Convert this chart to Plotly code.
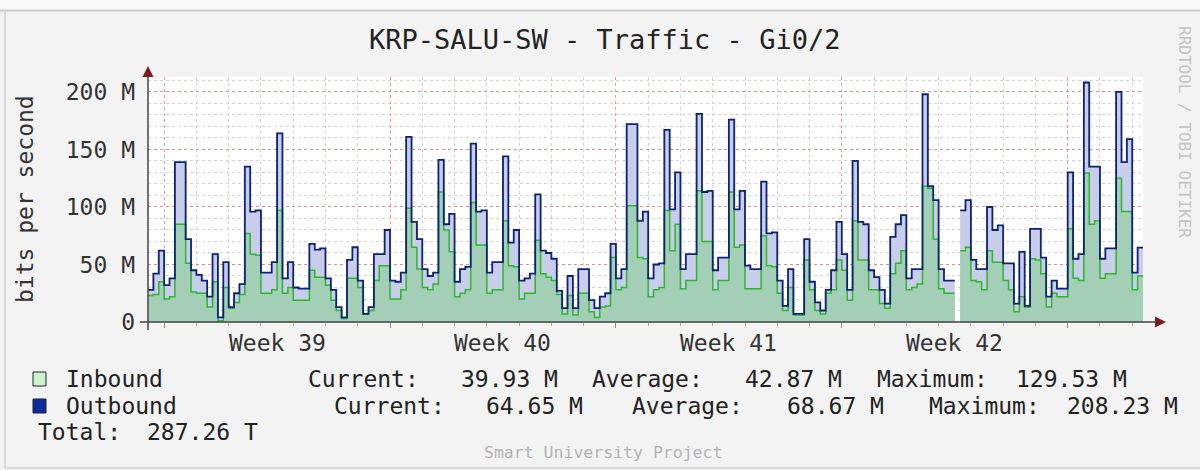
import plotly.graph_objects as go
import pandas as pd

# ---------------- data ----------------
start_time = "2019-09-22 12:00"
step = "4h"

outbound = [
    28, 42, 62, 32, 38, 139, 139, 72, 45, 41,
    36, 22, 59, 4, 52, 13, 25, 33, 135, 96,
    97, 43, 43, 52, 164, 38, 52, 30, 29, 29,
    68, 63, 64, 38, 28, 13, 4, 54, 65, 36,
    7, 13, 59, 59, 80, 36, 35, 43, 161, 87,
    72, 46, 40, 43, 141, 85, 94, 35, 46, 48,
    155, 96, 97, 43, 52, 52, 144, 69, 80, 36,
    38, 42, 111, 62, 60, 55, 27, 12, 40, 12,
    46, 46, 19, 12, 22, 25, 68, 38, 46, 172,
    172, 88, 96, 38, 50, 51, 167, 98, 130, 46,
    59, 59, 181, 113, 114, 45, 56, 56, 176, 98,
    114, 49, 46, 46, 122, 77, 78, 36, 14, 46,
    7, 7, 72, 35, 17, 10, 28, 45, 87, 59,
    28, 140, 87, 85, 45, 39, 28, 16, 74, 85,
    93, 38, 46, 46, 198, 118, 106, 46, 36, 36,
    None, 97, 106, 54, 46, 46, 100, 80, 84, 51,
    51, 16, 61, 14, 81, 81, 56, 22, 36, 29,
    29, 130, 55, 59, 208.23, 135, 135, 55, 64, 64,
    200, 139, 159, 43, 64.65,
]

inbound = [
    23, 24, 35, 20, 22, 85, 85, 51, 26, 25,
    25, 13, 35, 1, 30, 12, 17, 24, 77, 59,
    58, 25, 25, 28, 97, 25, 30, 19, 19, 19,
    45, 39, 39, 32, 19, 10, 3, 38, 38, 30,
    7, 10, 36, 49, 49, 20, 20, 28, 99, 65,
    46, 30, 28, 33, 113, 80, 61, 22, 25, 28,
    104, 67, 67, 25, 28, 28, 88, 49, 48, 20,
    25, 25, 71, 42, 39, 36, 24, 7, 23, 6,
    25, 25, 9, 4, 13, 14, 56, 28, 30, 101,
    101, 56, 55, 22, 28, 30, 97, 62, 85, 29,
    36, 36, 114, 70, 70, 28, 36, 36, 113, 65,
    67, 29, 29, 29, 75, 49, 48, 25, 10, 30,
    6, 6, 54, 28, 10, 7, 25, 28, 54, 45,
    19, 88, 54, 54, 28, 28, 16, 12, 42, 51,
    62, 28, 30, 33, 118, 116, 72, 29, 25, 25,
    None, 62, 65, 36, 35, 28, 62, 52, 52, 36,
    28, 9, 22, 13, 55, 54, 42, 13, 25, 22,
    22, 81, 38, 36, 129.53, 85, 88, 38, 42, 42,
    125, 96, 96, 28, 39.93,
]

week_labels = ["Week 39", "Week 40", "Week 41", "Week 42"]
week_label_times = ["2019-09-26 12:00", "2019-10-03 12:00",
                    "2019-10-10 12:00", "2019-10-17 12:00"]
week_grid_start = "2019-09-23"

y_tick_vals = [0, 50, 100, 150, 200]
y_tick_text = ["0", "50 M", "100 M", "150 M", "200 M"]

title_text = "KRP-SALU-SW - Traffic - Gi0/2"
y_title = "bits per second"
series_names = ["Inbound", "Outbound"]
stat_labels = ["Current:", "Average:", "Maximum:"]
inbound_stats = ["39.93 M", "42.87 M", "129.53 M"]
outbound_stats = ["64.65 M", "68.67 M", "208.23 M"]
total_label = "Total:"
total_value = "287.26 T"
footer_text = "Smart University Project"
side_text = "RRDTOOL / TOBI OETIKER"

# ---------------- figure ----------------
times = pd.date_range(start_time, periods=len(outbound) + 1, freq=step)


def segments(values):
    """Split a step series at missing values; each segment ends at the next step time."""
    segs, cur_x, cur_y = [], [], []
    for i, v in enumerate(values):
        if v is None:
            if cur_x:
                cur_x.append(times[i])
                cur_y.append(cur_y[-1])
                segs.append((cur_x, cur_y))
            cur_x, cur_y = [], []
        else:
            cur_x.append(times[i])
            cur_y.append(v)
    if cur_x:
        cur_x.append(times[len(values)])
        cur_y.append(cur_y[-1])
        segs.append((cur_x, cur_y))
    return segs


MONO = "DejaVu Sans Mono"
PL, PR, PT, PB = 148, 1143, 77, 322
W, H = 1200, 470


def px(x):
    return (x - PL) / (PR - PL)


def py(y):
    return (PB - y) / (PB - PT)


fig = go.Figure()
for sx, sy in segments(outbound):
    fig.add_trace(go.Scatter(x=sx, y=sy, mode="lines",
                             line=dict(shape="hv", width=0, color="#c8cdea"),
                             fill="tozeroy", fillcolor="#c8cdea", hoverinfo="skip"))
for sx, sy in segments(inbound):
    fig.add_trace(go.Scatter(x=sx, y=sy, mode="lines",
                             line=dict(shape="hv", width=0, color="#a3cfb6"),
                             fill="tozeroy", fillcolor="#a3cfb6", hoverinfo="skip"))
for sx, sy in segments(inbound):
    fig.add_trace(go.Scatter(x=sx, y=sy, mode="lines",
                             line=dict(shape="hv", width=1.5, color="#2fb52f")))
for sx, sy in segments(outbound):
    fig.add_trace(go.Scatter(x=sx, y=sy, mode="lines",
                             line=dict(shape="hv", width=1.8, color="#0b2275")))

fig.update_layout(
    width=W, height=H, autosize=False,
    margin=dict(l=PL, r=W - PR, t=PT, b=H - PB, pad=0),
    paper_bgcolor="#f3f3f3", plot_bgcolor="#ffffff",
    showlegend=False,
    font=dict(family=MONO, size=23, color="#333333"),
)

fig.update_xaxes(
    type="date", range=[times[0], times[-1]],
    showticklabels=False, showline=False, zeroline=False,
    showgrid=True, tick0=week_grid_start, dtick=7 * 86400000,
    gridcolor="rgba(225,120,120,0.75)", griddash="dot", gridwidth=1,
    ticks="outside", ticklen=5, tickcolor="#888888",
    minor=dict(dtick=86400000, tick0=week_grid_start, showgrid=True,
               gridcolor="#d2d2d2", griddash="dot", gridwidth=1,
               ticks="outside", ticklen=3, tickcolor="#aaaaaa"),
)
fig.update_yaxes(
    range=[0, 213], tickvals=y_tick_vals, ticktext=y_tick_text,
    tickfont=dict(family=MONO, size=23, color="#333333"),
    showline=False, zeroline=False, showgrid=True,
    gridcolor="rgba(225,120,120,0.75)", griddash="dot", gridwidth=1,
    ticks="", ticklabelstandoff=12,
    minor=dict(dtick=10, showgrid=True, gridcolor="#d2d2d2",
               griddash="dot", gridwidth=1),
)

shapes = []
# frame
shapes.append(dict(type="rect", xref="paper", yref="paper", x0=px(0), x1=px(W),
                   y0=py(0), y1=py(10), fillcolor="#fbfbfb", line=dict(width=0), layer="below"))
shapes.append(dict(type="line", xref="paper", yref="paper", x0=px(0), x1=px(W),
                   y0=py(10.5), y1=py(10.5), line=dict(color="#cccccc", width=2)))
shapes.append(dict(type="line", xref="paper", yref="paper", x0=px(5), x1=px(5),
                   y0=py(10), y1=py(468), line=dict(color="#d0d0d0", width=1.5)))
shapes.append(dict(type="line", xref="paper", yref="paper", x0=px(5), x1=px(W),
                   y0=py(468), y1=py(468), line=dict(color="#d0d0d0", width=1.5)))
# axes
shapes.append(dict(type="line", xref="paper", yref="paper", x0=px(140), x1=px(1158),
                   y0=py(PB), y1=py(PB), line=dict(color="#444444", width=1.5)))
shapes.append(dict(type="line", xref="paper", yref="paper", x0=px(PL), x1=px(PL),
                   y0=py(330), y1=py(72), line=dict(color="#444444", width=1.5)))
# legend boxes
shapes.append(dict(type="rect", xref="paper", yref="paper", x0=px(33), x1=px(46),
                   y0=py(386), y1=py(372), fillcolor="#ccf2cc", line=dict(color="#222222", width=1)))
shapes.append(dict(type="rect", xref="paper", yref="paper", x0=px(33), x1=px(46),
                   y0=py(413), y1=py(399), fillcolor="#0a2a9e", line=dict(color="#222222", width=1)))
fig.update_layout(shapes=shapes)

ann = []
# arrow heads
ann.append(dict(xref="paper", yref="paper", x=px(1166), y=py(PB), ax=-12, ay=0,
                showarrow=True, arrowhead=2, arrowsize=1.1, arrowwidth=2,
                arrowcolor="#7a1c1c", text=""))
ann.append(dict(xref="paper", yref="paper", x=px(PL), y=py(66), ax=0, ay=12,
                showarrow=True, arrowhead=2, arrowsize=1.1, arrowwidth=2,
                arrowcolor="#7a1c1c", text=""))
# title
ann.append(dict(xref="paper", yref="paper", x=px(604), y=py(40), text=title_text,
                showarrow=False, xanchor="center", yanchor="middle",
                font=dict(family=MONO, size=27, color="#222222")))
# y axis title
ann.append(dict(xref="paper", yref="paper", x=px(25), y=py(199), text=y_title,
                showarrow=False, textangle=-90, xanchor="center", yanchor="middle",
                font=dict(family=MONO, size=23, color="#333333")))
# week labels
for lab, t in zip(week_labels, week_label_times):
    ann.append(dict(xref="x", yref="paper", x=t, y=py(343), text=lab,
                    showarrow=False, xanchor="center", yanchor="middle",
                    font=dict(family=MONO, size=23, color="#333333")))
# legend rows
row1 = [(series_names[0], 64), (stat_labels[0], 306), (inbound_stats[0], 459),
        (stat_labels[1], 590), (inbound_stats[1], 743), (stat_labels[2], 875),
        (inbound_stats[2], 1014)]
row2 = [(series_names[1], 64), (stat_labels[0], 332), (outbound_stats[0], 484),
        (stat_labels[1], 630), (outbound_stats[1], 785), (stat_labels[2], 927),
        (outbound_stats[2], 1065)]
for row, yy in ((row1, 379), (row2, 406)):
    for txt, xx in row:
        ann.append(dict(xref="paper", yref="paper", x=px(xx), y=py(yy), text=txt,
                        showarrow=False, xanchor="left", yanchor="middle",
                        font=dict(family=MONO, size=23, color="#222222")))
ann.append(dict(xref="paper", yref="paper", x=px(36), y=py(432), text=total_label,
                showarrow=False, xanchor="left", yanchor="middle",
                font=dict(family=MONO, size=23, color="#222222")))
ann.append(dict(xref="paper", yref="paper", x=px(145), y=py(432), text=total_value,
                showarrow=False, xanchor="left", yanchor="middle",
                font=dict(family=MONO, size=23, color="#222222")))
# footer and side credit
ann.append(dict(xref="paper", yref="paper", x=px(603), y=py(452), text=footer_text,
                showarrow=False, xanchor="center", yanchor="middle",
                font=dict(family=MONO, size=16.5, color="#b4b4b4")))
ann.append(dict(xref="paper", yref="paper", x=px(1185), y=py(132), text=side_text,
                showarrow=False, textangle=90, xanchor="center", yanchor="middle",
                font=dict(family=MONO, size=16, color="#c4c4c4")))
fig.update_layout(annotations=ann)

fig.write_html("out.html", config={"displayModeBar": False},
               post_script="document.body.style.margin='0px';")
